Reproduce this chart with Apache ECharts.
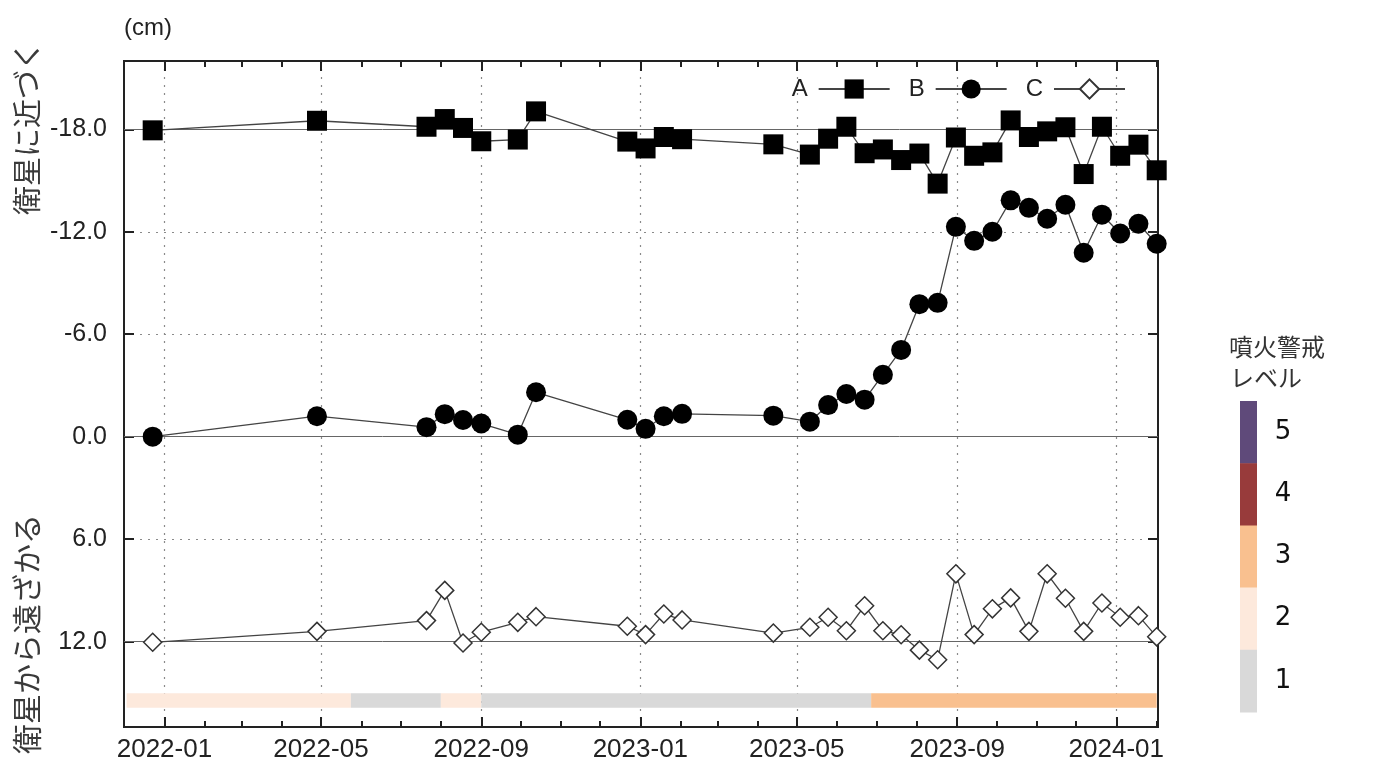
<!DOCTYPE html>
<html><head><meta charset="utf-8">
<script src="https://cdn.jsdelivr.net/npm/echarts@6/dist/echarts.min.js"></script>
<style>html,body{margin:0;padding:0;background:#fff;}#chart{width:1399px;height:776px;}</style>
</head><body><div id="chart"></div>
<script>
// ---------- data ----------
const dates = ['2021-12-23','2022-04-28','2022-07-21','2022-08-04','2022-08-18','2022-09-01','2022-09-29','2022-10-13','2022-12-22','2023-01-05','2023-01-19','2023-02-02','2023-04-13','2023-05-11','2023-05-25','2023-06-08','2023-06-22','2023-07-06','2023-07-20','2023-08-03','2023-08-17','2023-08-31','2023-09-14','2023-09-28','2023-10-12','2023-10-26','2023-11-09','2023-11-23','2023-12-07','2023-12-21','2024-01-04','2024-01-18','2024-02-01'];
const seriesA = [-17.94,-18.5,-18.15,-18.6,-18.08,-17.3,-17.4,-19.05,-17.28,-16.88,-17.55,-17.42,-17.12,-16.52,-17.45,-18.15,-16.6,-16.82,-16.2,-16.58,-14.82,-17.52,-16.45,-16.65,-18.52,-17.55,-17.88,-18.12,-15.38,-18.15,-16.45,-17.1,-15.6];
const seriesB = [0.0,-1.2,-0.56,-1.32,-0.98,-0.77,-0.12,-2.6,-0.99,-0.46,-1.2,-1.34,-1.23,-0.88,-1.85,-2.5,-2.17,-3.63,-5.08,-7.76,-7.84,-12.29,-11.47,-12.0,-13.84,-13.4,-12.76,-13.58,-10.77,-13.0,-11.9,-12.47,-11.3];
const seriesC = [12.04,11.4,10.77,9.0,12.08,11.45,10.87,10.54,11.1,11.59,10.38,10.73,11.5,11.16,10.57,11.36,9.9,11.36,11.6,12.5,13.06,8.03,11.59,10.08,9.44,11.4,8.03,9.46,11.4,9.74,10.57,10.48,11.72];
const seriesNames = ['A','B','C'];
const baselines = [-18, 0, 12];
const yTickValues = [-18, -12, -6, 0, 6, 12];
const xTickLabels = ['2022-01','2022-05','2022-09','2023-01','2023-05','2023-09','2024-01'];
const levelPeriods = [
  ['2021-12-03','2022-05-24',2],
  ['2022-05-24','2022-08-01',1],
  ['2022-08-01','2022-09-01',2],
  ['2022-09-01','2023-06-27',1],
  ['2023-06-27','2024-02-01',3]
];
const levelColors = {1:'#d9d9d9',2:'#fde9dc',3:'#f9c08f',4:'#983b3b',5:'#5f4a7a'};
const levelLabels = ['5','4','3','2','1'];
const legendTitle = ['噴火警戒','レベル'];
const yTitleTop = '衛星に近づく';
const yTitleBottom = '衛星から遠ざかる';
const unitLabel = '(cm)';
const xRange = ['2021-12-01','2024-02-02'];
const yRange = [-22, 17];

// ---------- helpers ----------
const BASE = Date.UTC(2022,0,1);
function dayNum(s){ const p = s.split('-').map(Number); return (Date.UTC(p[0], p[1]-1, p[2]||1) - BASE)/86400000; }
function dayLabel(v){ const d = new Date(BASE + Math.round(v)*86400000); return d.getUTCFullYear() + '-' + String(d.getUTCMonth()+1).padStart(2,'0'); }
const xMin = dayNum(xRange[0]), xMax = dayNum(xRange[1]);
const majorDays = xTickLabels.map(dayNum);
const minorDays = [];
for (let y = 2021; y <= 2024; y++) for (let m = 1; m <= 12; m++) {
  const v = dayNum(y + '-' + String(m).padStart(2,'0') + '-01');
  if (v >= xMin && v <= xMax) minorDays.push(v);
}
const xs = dates.map(dayNum);
const pair = arr => arr.map((v,i) => [xs[i], v]);

const TXT = '#222';
const FONT = '"Liberation Sans", Arial, Helvetica, sans-serif';
const JP = '"Noto Sans CJK JP", sans-serif';
const BAR_Y0 = 15.03, BAR_Y1 = 15.88;

function xAxisDef(pos, ticks, len, withLabels){
  return {
    type:'value', position:pos, min:xMin, max:xMax,
    axisLine:{show:false, onZero:false},
    axisTick:{show:true, inside:true, length:len, customValues:ticks, lineStyle:{color:'#222', width:2}},
    axisLabel:{show:withLabels, customValues:majorDays, formatter:dayLabel, fontSize:26, color:TXT, fontFamily:FONT, margin:10},
    splitLine:{show:withLabels, lineStyle:{color:'#8a8a8a', width:1.2, type:[2,6]}}
  };
}
function yAxisDef(pos, withLabels){
  return {
    type:'value', position:pos, inverse:true, min:yRange[0], max:yRange[1],
    axisLine:{show:false, onZero:false},
    axisTick:{show:true, inside:true, length:10, customValues:yTickValues, lineStyle:{color:'#222', width:2}},
    axisLabel:{show:withLabels, customValues:yTickValues, formatter:v => v.toFixed(1), fontSize:25, color:TXT, fontFamily:FONT, margin:17},
    splitLine:{show:withLabels, lineStyle:{color:'#8a8a8a', width:1.2, type:[2,6]}}
  };
}
function baseLine(v){
  return {silent:true, symbol:'none', label:{show:false}, lineStyle:{color:'#666', width:1, type:'solid'}, data:[{yAxis:v}], z:1};
}

const graphic = [
  {type:'text', left:124, top:16, style:{text:unitLabel, fontSize:24, fill:TXT, fontFamily:FONT}},
  {type:'text', x:27, y:128, rotation:Math.PI/2, style:{text:yTitleTop, fontSize:29, fill:'#3a3a3a', fontFamily:JP, align:'center', verticalAlign:'middle'}},
  {type:'text', x:27, y:634, rotation:Math.PI/2, style:{text:yTitleBottom, fontSize:30, fill:'#3a3a3a', fontFamily:JP, align:'center', verticalAlign:'middle'}},
  {type:'text', x:1229, y:347, style:{text:legendTitle[0], fontSize:24, fill:'#333', fontFamily:JP, verticalAlign:'middle'}},
  {type:'text', x:1230, y:378, style:{text:legendTitle[1], fontSize:24, fill:'#333', fontFamily:JP, verticalAlign:'middle'}}
];
const swH = 62.2;
levelLabels.forEach((lab, i) => {
  graphic.push({type:'rect', shape:{x:1240, y:401 + i*swH, width:17, height:swH + 0.5}, style:{fill:levelColors[Number(lab)]}});
  graphic.push({type:'text', x:1283, y:401 + i*swH + swH/2, style:{text:lab, fontSize:26, fill:'#111', fontFamily:'"DejaVu Sans", sans-serif', align:'center', verticalAlign:'middle'}});
});

const lineStyle = {color:'#444', width:1.3};
const option = {
  animation:false,
  backgroundColor:'#fff',
  grid:{left:124, right:241, top:61, bottom:49, show:true, borderColor:'#222', borderWidth:2, backgroundColor:'transparent'},
  xAxis:[
    xAxisDef('bottom', majorDays, 10, true),
    xAxisDef('bottom', minorDays, 6, false),
    xAxisDef('top', majorDays, 10, false),
    xAxisDef('top', minorDays, 6, false)
  ],
  yAxis:[ yAxisDef('left', true), yAxisDef('right', false) ],
  legend:{
    data:seriesNames, top:72, right:268, align:'right', itemWidth:71, itemHeight:24, itemGap:18,
    textStyle:{fontSize:24, color:TXT, fontFamily:FONT, padding:[0,6,0,0]}
  },
  graphic:graphic,
  series:[
    {
      type:'custom', name:'level', xAxisIndex:0, yAxisIndex:0, silent:true, z:1,
      data:levelPeriods.map(p => [dayNum(p[0]), dayNum(p[1]), p[2]]),
      encode:{x:[0,1], y:2},
      renderItem:(params, api) => {
        const s = api.coord([api.value(0), BAR_Y0]);
        const e = api.coord([api.value(1), BAR_Y1]);
        return {type:'rect', shape:{x:s[0], y:s[1], width:e[0]-s[0], height:e[1]-s[1]}, style:{fill:levelColors[api.value(2)]}};
      }
    },
    {name:seriesNames[0], type:'line', data:pair(seriesA), symbol:'rect', symbolSize:20, itemStyle:{color:'#000'}, lineStyle:lineStyle, z:3, markLine:baseLine(baselines[0])},
    {name:seriesNames[1], type:'line', data:pair(seriesB), symbol:'circle', symbolSize:20, itemStyle:{color:'#000'}, lineStyle:lineStyle, z:3, markLine:baseLine(baselines[1])},
    {name:seriesNames[2], type:'line', data:pair(seriesC), symbol:'diamond', symbolSize:18, itemStyle:{color:'#fff', borderColor:'#333', borderWidth:1.5}, lineStyle:lineStyle, z:3, markLine:baseLine(baselines[2])}
  ]
};
const chart = echarts.init(document.getElementById('chart'));
chart.setOption(option);
</script>
</body></html>
